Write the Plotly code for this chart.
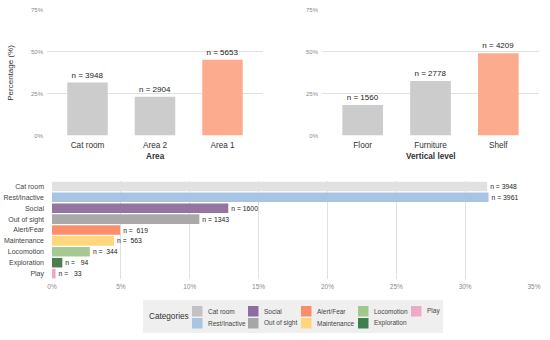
import plotly.graph_objects as go

# ---------------- data ----------------
area_cats = ["Cat room", "Area 2", "Area 1"]
area_pct = [31.6, 23.2, 45.2]
area_n = [3948, 2904, 5653]

level_cats = ["Floor", "Furniture", "Shelf"]
level_pct = [18.3, 32.5, 49.2]
level_n = [1560, 2778, 4209]

beh_cats = ["Cat room", "Rest/Inactive", "Social", "Out of sight", "Alert/Fear",
            "Maintenance", "Locomotion", "Exploration", "Play"]
beh_pct = [31.6, 31.7, 12.8, 10.7, 4.95, 4.5, 2.75, 0.75, 0.26]
beh_n = [3948, 3961, 1600, 1343, 619, 563, 344, 94, 33]

top_ticks = [0, 25, 50, 75]
top_ticklabels = ["0%", "25%", "50%", "75%"]
bot_ticks = [0, 5, 10, 15, 20, 25, 30, 35]
bot_ticklabels = ["0%", "5%", "10%", "15%", "20%", "25%", "30%", "35%"]

# ---------------- styles ----------------
FONT = "Liberation Sans, Arial, sans-serif"
GRAY_BAR = "#cccccc"
HIGHLIGHT = "#fcab8e"
top_colors_area = [GRAY_BAR, GRAY_BAR, HIGHLIGHT]
top_colors_level = [GRAY_BAR, GRAY_BAR, HIGHLIGHT]
beh_colors = ["#e1e1e1", "#a8c4e4", "#9474a0", "#a9a9a9", "#fc8e6b",
              "#fdd67e", "#a6c993", "#4c7d4f", "#eaa8c4"]
legend_colors = ["#c2c2c2", "#a8c5e4", "#8f6c9f", "#a6a6a6", "#fc8d6c",
                 "#fed77c", "#a0c88c", "#3f7f4e", "#eea9c6"]
GRID = "#e0e0e0"

W, H = 550, 340


def px_x(x):
    return x / W


def px_y(y):
    return 1 - y / H


def nlabel(n):
    s = str(n)
    return "n =\u00a0" + "\u00a0" * (4 - len(s)) + s


fig = go.Figure()

fig.add_trace(go.Bar(
    x=area_cats, y=area_pct, marker=dict(color=top_colors_area, line=dict(width=0)),
    width=0.6, text=[nlabel(n) for n in area_n], textposition="outside",
    outsidetextfont=dict(size=8, color="#222222", family=FONT),
    cliponaxis=False, xaxis="x", yaxis="y", showlegend=False, hoverinfo="skip"))

fig.add_trace(go.Bar(
    x=level_cats, y=level_pct, marker=dict(color=top_colors_level, line=dict(width=0)),
    width=0.6, text=[nlabel(n) for n in level_n], textposition="outside",
    outsidetextfont=dict(size=8, color="#222222", family=FONT),
    cliponaxis=False, xaxis="x2", yaxis="y2", showlegend=False, hoverinfo="skip"))

fig.add_trace(go.Bar(
    y=beh_cats, x=beh_pct, orientation="h",
    marker=dict(color=beh_colors, line=dict(width=0)),
    width=0.88, text=[nlabel(n) for n in beh_n], textposition="outside",
    outsidetextfont=dict(size=6.8, color="#222222", family=FONT),
    cliponaxis=False, xaxis="x3", yaxis="y3", showlegend=False, hoverinfo="skip"))

top_y_domain = [px_y(135.5), px_y(10)]

common_cat_x = dict(showgrid=False, zeroline=False, showline=False, ticks="",
                    automargin=False, ticklabelstandoff=3,
                    tickfont=dict(size=8.2, color="#333333", family=FONT),
                    range=[-0.6, 2.6], fixedrange=True)
common_pct_y = dict(range=[0, 75], tickvals=top_ticks, ticktext=top_ticklabels,
                    showgrid=True, gridcolor=GRID, gridwidth=1, zeroline=False,
                    showline=False, ticks="", automargin=False, ticklabelstandoff=3,
                    tickfont=dict(size=6, color="#8a8a8a", family=FONT))

fig.update_layout(
    width=W, height=H,
    margin=dict(l=0, r=0, t=0, b=0),
    paper_bgcolor="white", plot_bgcolor="white",
    font=dict(family=FONT, color="#333333"),
    xaxis=dict(domain=[px_x(47), px_x(263)], anchor="y", **common_cat_x),
    yaxis=dict(domain=top_y_domain, anchor="x", **common_pct_y),
    xaxis2=dict(domain=[px_x(322), px_x(539)], anchor="y2", **common_cat_x),
    yaxis2=dict(domain=top_y_domain, anchor="x2", **common_pct_y),
    xaxis3=dict(domain=[px_x(52), px_x(534)], anchor="y3", range=[0, 35],
                tickvals=bot_ticks, ticktext=bot_ticklabels,
                showgrid=True, gridcolor=GRID, gridwidth=1, zeroline=False,
                showline=False, ticks="", automargin=False, ticklabelstandoff=2,
                tickfont=dict(size=6.5, color="#8a8a8a", family=FONT), fixedrange=True),
    yaxis3=dict(domain=[px_y(279), px_y(181)], anchor="x3", automargin=False,
                autorange="reversed", showgrid=False, zeroline=False, showline=False,
                ticks="", ticklabelstandoff=7,
                tickfont=dict(size=7, color="#444444", family=FONT)),
)

shapes = []
annotations = []

# axis titles
annotations.append(dict(text="<b>Area</b>", xref="x domain", yref="paper", x=0.5,
                        y=px_y(156.5), xanchor="center", yanchor="middle", showarrow=False,
                        font=dict(size=8.2, color="#333333", family=FONT)))
annotations.append(dict(text="<b>Vertical level</b>", xref="x2 domain", yref="paper", x=0.5,
                        y=px_y(156.5), xanchor="center", yanchor="middle", showarrow=False,
                        font=dict(size=8.2, color="#333333", family=FONT)))
annotations.append(dict(text="Percentage (%)", xref="paper", yref="y domain",
                        x=px_x(11), y=0.5, textangle=-90, xanchor="center", yanchor="middle",
                        showarrow=False, font=dict(size=8, color="#333333", family=FONT)))

# ---------------- legend (drawn manually, ggplot-style bottom box) ----------------
shapes.append(dict(type="rect", xref="paper", yref="paper",
                   x0=px_x(143), x1=px_x(443), y0=px_y(333), y1=px_y(300),
                   fillcolor="#efefef", line=dict(width=0), layer="below"))
annotations.append(dict(text="Categories", xref="paper", yref="paper",
                        x=px_x(147), y=px_y(316.5), xanchor="left", yanchor="middle",
                        showarrow=False, font=dict(size=8.2, color="#333333", family=FONT)))
col_x = [192, 248, 301, 358, 411]
row_y = [306, 318]
for i, (cat, col) in enumerate(zip(beh_cats, legend_colors)):
    c = i // 2
    r = i % 2
    x0 = col_x[c]
    y0 = row_y[r]
    shapes.append(dict(type="rect", xref="paper", yref="paper",
                       x0=px_x(x0), x1=px_x(x0 + 10.5), y0=px_y(y0 + 10.5), y1=px_y(y0),
                       fillcolor=col, line=dict(width=0)))
    annotations.append(dict(text=cat, xref="paper", yref="paper",
                            x=px_x(x0 + 14), y=px_y(y0 + 5.2), xanchor="left", yanchor="middle",
                            showarrow=False, font=dict(size=6.5, color="#444444", family=FONT)))

fig.update_layout(shapes=shapes, annotations=annotations)

fig.write_html("out.html",
               config={"displayModeBar": False},
               post_script="document.body.style.margin='0px';"
                           "document.documentElement.style.margin='0px';")
